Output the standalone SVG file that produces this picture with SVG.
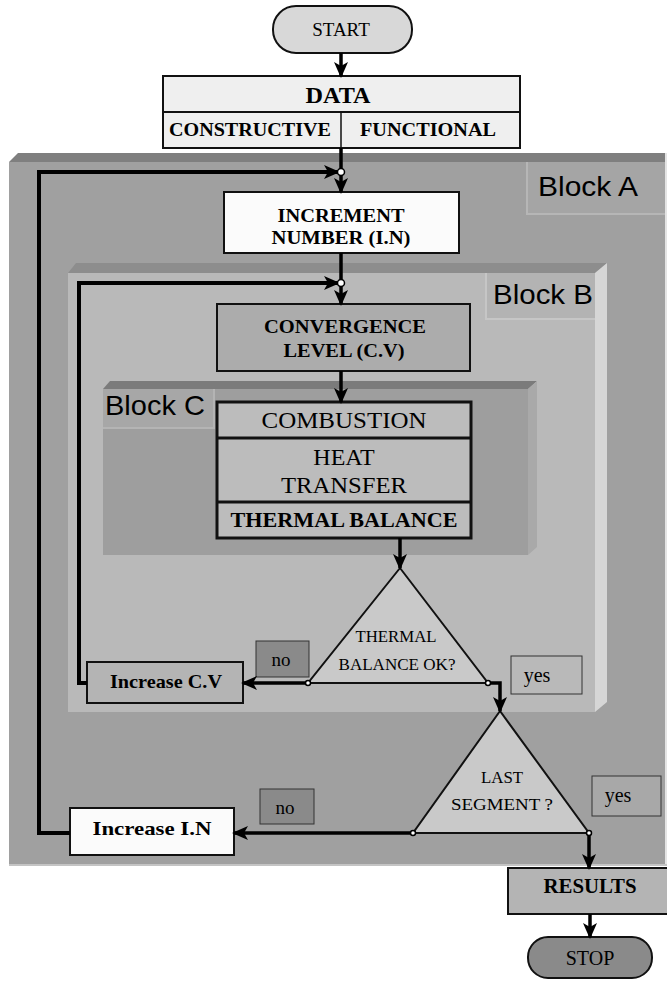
<svg xmlns="http://www.w3.org/2000/svg" width="667" height="981" viewBox="0 0 667 981">
<style>
.t{font-family:"Liberation Serif","Times New Roman",serif;fill:#000;text-anchor:middle}
.b{font-weight:bold}
.lbl{font-family:"Liberation Sans",Arial,sans-serif;fill:#000;font-size:28px}
.box{stroke:#111;stroke-width:2}
.thick{stroke:#111;stroke-width:3}
.con{fill:none;stroke:#000;stroke-width:3.5}
.loop{fill:none;stroke:#000;stroke-width:4}
.dot{fill:#fff;stroke:#000;stroke-width:1.5}
.tri{fill:#c9c9c9;stroke:#111;stroke-width:2}
</style>
<defs>
<marker id="ah" markerWidth="16" markerHeight="16" refX="14" refY="8" orient="auto" markerUnits="userSpaceOnUse">
<path d="M0,1 L16,8 L0,15 L4,8 Z" fill="#000"/>
</marker>
</defs>
<rect width="667" height="981" fill="#fff"/>

<g id="blockA">
<rect x="9" y="162" width="656" height="703" fill="#a0a0a0"/>
<polygon points="9,162 18,153 667,153 667,162" fill="#7f7f7f"/>
<rect x="665" y="153" width="2" height="712" fill="#e4e4e4"/>
<rect x="9" y="864" width="658" height="2" fill="#c4c4c4"/>
<rect x="526" y="162" width="139" height="53" fill="#a5a5a5"/>
<path d="M527,162 V214 H665" fill="none" stroke="#b6b6b6" stroke-width="2"/>
<text class="lbl" x="538" y="196" textLength="100" lengthAdjust="spacingAndGlyphs">Block A</text>
</g>

<g id="blockB">
<rect x="68" y="273" width="527" height="439" fill="#b9b9b9"/>
<polygon points="68,273 76,263 607,263 595,273" fill="#8d8d8d"/>
<polygon points="595,273 607,263 607,702 595,712" fill="#d6d6d6"/>
<rect x="485" y="273" width="110" height="47" fill="#b3b3b3"/>
<path d="M486,273 V319 H595" fill="none" stroke="#c6c6c6" stroke-width="2"/>
<text class="lbl" x="493" y="304" textLength="100" lengthAdjust="spacingAndGlyphs">Block B</text>
</g>

<g id="blockC">
<rect x="103" y="389" width="425" height="166" fill="#9e9e9e"/>
<polygon points="103,389 110,381 537,381 528,389" fill="#7b7b7b"/>
<polygon points="528,389 537,381 537,547 528,555" fill="#a9a9a9"/>
<rect x="103" y="389" width="112" height="40" fill="#a7a7a7"/>
<path d="M103,428 H214 V389" fill="none" stroke="#b4b4b4" stroke-width="2"/>
<text class="lbl" x="105" y="415" textLength="100" lengthAdjust="spacingAndGlyphs">Block C</text>
</g>

<g id="start">
<rect x="273" y="6" width="139" height="47" rx="23" ry="23" fill="#d8d8d8" class="box"/>
<text class="t" x="341" y="36" font-size="19">START</text>
</g>

<g id="data">
<rect x="163" y="76" width="357" height="72" fill="#efefef" class="box"/>
<line x1="163" y1="112" x2="520" y2="112" stroke="#111" stroke-width="2"/>
<line x1="341" y1="112" x2="341" y2="148" stroke="#111" stroke-width="1.5"/>
<text class="t b" x="338" y="103" font-size="24" textLength="65" lengthAdjust="spacingAndGlyphs">DATA</text>
<text class="t b" x="250" y="136" font-size="19" textLength="162" lengthAdjust="spacingAndGlyphs">CONSTRUCTIVE</text>
<text class="t b" x="428" y="136" font-size="19" textLength="136" lengthAdjust="spacingAndGlyphs">FUNCTIONAL</text>
</g>

<g id="increment">
<rect x="224" y="192" width="235" height="61" fill="#fbfbfb" class="box"/>
<text class="t b" x="341" y="222" font-size="18" textLength="127" lengthAdjust="spacingAndGlyphs">INCREMENT</text>
<text class="t b" x="341" y="244" font-size="18" textLength="139" lengthAdjust="spacingAndGlyphs">NUMBER (I.N)</text>
</g>

<g id="convergence">
<rect x="217" y="304" width="253" height="67" fill="#acacac" class="box"/>
<text class="t b" x="345" y="333" font-size="18" textLength="162" lengthAdjust="spacingAndGlyphs">CONVERGENCE</text>
<text class="t b" x="344" y="357" font-size="18" textLength="121" lengthAdjust="spacingAndGlyphs">LEVEL (C.V)</text>
</g>

<g id="combo">
<rect x="217" y="402" width="254" height="136" fill="#bcbcbc" class="thick"/>
<line x1="217" y1="438" x2="471" y2="438" class="thick"/>
<line x1="217" y1="502" x2="471" y2="502" class="thick"/>
<text class="t" x="344" y="428" font-size="24" textLength="165" lengthAdjust="spacingAndGlyphs">COMBUSTION</text>
<text class="t" x="344" y="465" font-size="24">HEAT</text>
<text class="t" x="344" y="493" font-size="24" textLength="126" lengthAdjust="spacingAndGlyphs">TRANSFER</text>
<text class="t b" x="344" y="527" font-size="21" textLength="227" lengthAdjust="spacingAndGlyphs">THERMAL BALANCE</text>
</g>

<g id="decision1">
<polygon points="400,568 308,683 488,683" class="tri"/>
<text class="t" x="396" y="642" font-size="16" textLength="81" lengthAdjust="spacingAndGlyphs">THERMAL</text>
<text class="t" x="397" y="670" font-size="16" textLength="117" lengthAdjust="spacingAndGlyphs">BALANCE OK?</text>
</g>

<g id="no1">
<rect x="256" y="641" width="53" height="36" fill="#8a8a8a" stroke="#333" stroke-width="1"/>
<text class="t" x="281" y="666" font-size="19">no</text>
</g>

<g id="yes1">
<rect x="511" y="656" width="71" height="38" fill="#b9b9b9" stroke="#333" stroke-width="1"/>
<text class="t" x="537" y="682" font-size="20">yes</text>
</g>

<g id="increaseCV">
<rect x="87" y="662" width="156" height="41" fill="#b4b4b4" class="box"/>
<text class="t b" x="166" y="688" font-size="19" textLength="112" lengthAdjust="spacingAndGlyphs">Increase C.V</text>
</g>

<g id="decision2">
<polygon points="500,711 413,833 589,833" class="tri"/>
<text class="t" x="502" y="783" font-size="16" textLength="42" lengthAdjust="spacingAndGlyphs">LAST</text>
<text class="t" x="502" y="810" font-size="16" textLength="102" lengthAdjust="spacingAndGlyphs">SEGMENT ?</text>
</g>

<g id="no2">
<rect x="260" y="789" width="54" height="35" fill="#8a8a8a" stroke="#333" stroke-width="1"/>
<text class="t" x="285" y="814" font-size="19">no</text>
</g>

<g id="yes2">
<rect x="592" y="776" width="69" height="40" fill="#a8a8a8" stroke="#333" stroke-width="1"/>
<text class="t" x="618" y="802" font-size="20">yes</text>
</g>

<g id="increaseIN">
<rect x="70" y="808" width="164" height="47" fill="#fbfbfb" class="box"/>
<text class="t b" x="152" y="835" font-size="19" textLength="119" lengthAdjust="spacingAndGlyphs">Increase I.N</text>
</g>

<g id="results">
<rect x="508" y="868" width="160" height="46" fill="#b4b4b4" class="box"/>
<text class="t b" x="590" y="893" font-size="20" textLength="93" lengthAdjust="spacingAndGlyphs">RESULTS</text>
</g>

<g id="stop">
<rect x="528" y="937" width="124" height="41" rx="20" ry="20" fill="#8a8a8a" class="box"/>
<text class="t" x="590" y="965" font-size="20">STOP</text>
</g>

<g id="connectors">
<path class="con" d="M341,53 V76" marker-end="url(#ah)"/>
<path class="con" d="M341,148 V192" marker-end="url(#ah)"/>
<path class="loop" d="M70,833 H39 V172 H338" marker-end="url(#ah)"/>
<path class="con" d="M341,253 V304" marker-end="url(#ah)"/>
<path class="loop" d="M87,683 H79 V283 H338" marker-end="url(#ah)"/>
<path class="con" d="M341,371 V402" marker-end="url(#ah)"/>
<path class="con" d="M400,538 V568" marker-end="url(#ah)"/>
<path class="con" d="M308,683 H243" marker-end="url(#ah)"/>
<path class="con" d="M488,683 H500 V711" marker-end="url(#ah)"/>
<path class="con" d="M413,833 H234" marker-end="url(#ah)"/>
<path class="con" d="M589,833 V868" marker-end="url(#ah)"/>
<path class="con" d="M590,914 V937" marker-end="url(#ah)"/>
<circle class="dot" cx="341" cy="172" r="3.5"/>
<circle class="dot" cx="341" cy="283" r="3.5"/>
<circle class="dot" cx="308" cy="683" r="2.5"/>
<circle class="dot" cx="488" cy="683" r="2.5"/>
<circle class="dot" cx="413" cy="833" r="2.5"/>
<circle class="dot" cx="589" cy="833" r="2.5"/>
</g>
</svg>
